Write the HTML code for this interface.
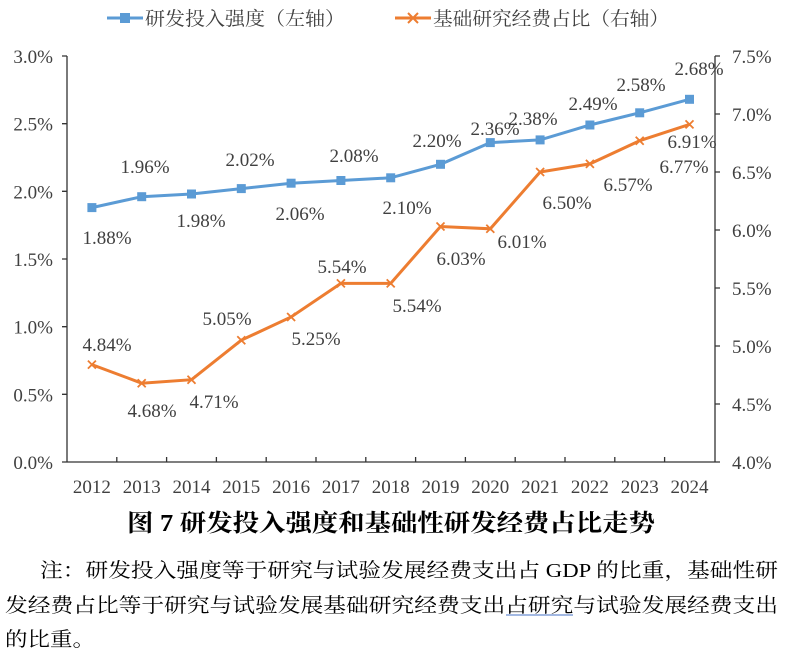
<!DOCTYPE html>
<html><head><meta charset="utf-8"><style>
body{margin:0;background:#fff;}
svg{display:block;}
.t{font-family:"Liberation Serif","Noto Serif CJK SC",serif;fill:#404040;font-size:19px;}
.c{font-family:"Liberation Serif","Noto Serif CJK SC",serif;fill:#000;}
</style></head><body>
<svg width="790" height="652" viewBox="0 0 790 652" xmlns="http://www.w3.org/2000/svg">
<!-- legend -->
<line x1="107" y1="18" x2="143" y2="18" stroke="#5B9BD5" stroke-width="3"/>
<rect x="120" y="13" width="10" height="10" fill="#5B9BD5"/>
<text class="t" x="145" y="25" font-size="19" textLength="200" lengthAdjust="spacingAndGlyphs">研发投入强度（左轴）</text>
<line x1="395" y1="18" x2="431" y2="18" stroke="#ED7D31" stroke-width="3"/>
<path d="M408 13l10 10M418 13l-10 10" stroke="#ED7D31" stroke-width="2"/>
<text class="t" x="433" y="25" font-size="19" textLength="236" lengthAdjust="spacingAndGlyphs">基础研究经费占比（右轴）</text>
<!-- axes -->
<g stroke="#333" stroke-width="1.3" fill="none">
<line x1="67" y1="56" x2="67" y2="462"/>
<line x1="715" y1="56" x2="715" y2="462"/>
<line x1="67" y1="462" x2="715" y2="462"/>
<path d="M62 56h5M62 123.7h5M62 191.3h5M62 259h5M62 326.7h5M62 394.3h5M62 462h5"/>
<path d="M715 56h5M715 114h5M715 172h5M715 230h5M715 288h5M715 346h5M715 404h5M715 462h5"/>
<path d="M116.8 462v-5M166.6 462v-5M216.4 462v-5M266.2 462v-5M316 462v-5M365.8 462v-5M415.6 462v-5M465.4 462v-5M515.2 462v-5M565 462v-5M614.8 462v-5M664.6 462v-5"/>
</g>
<g class="t" text-anchor="end">
<text x="53" y="63">3.0%</text><text x="53" y="130.7">2.5%</text><text x="53" y="198.3">2.0%</text><text x="53" y="266">1.5%</text><text x="53" y="333.7">1.0%</text><text x="53" y="401.3">0.5%</text><text x="53" y="469">0.0%</text>
</g>
<g class="t">
<text x="732" y="63">7.5%</text><text x="732" y="121">7.0%</text><text x="732" y="179">6.5%</text><text x="732" y="237">6.0%</text><text x="732" y="295">5.5%</text><text x="732" y="353">5.0%</text><text x="732" y="411">4.5%</text><text x="732" y="469">4.0%</text>
</g>
<g class="t" text-anchor="middle">
<text x="91.9" y="493">2012</text><text x="141.7" y="493">2013</text><text x="191.5" y="493">2014</text><text x="241.3" y="493">2015</text><text x="291.1" y="493">2016</text><text x="340.9" y="493">2017</text><text x="390.7" y="493">2018</text><text x="440.5" y="493">2019</text><text x="490.3" y="493">2020</text><text x="540.1" y="493">2021</text><text x="589.9" y="493">2022</text><text x="639.7" y="493">2023</text><text x="689.5" y="493">2024</text>
</g>
<!-- blue series -->
<polyline fill="none" stroke="#5B9BD5" stroke-width="3" points="91.9,207.6 141.7,196.7 191.5,194.0 241.3,188.6 291.1,183.2 340.9,180.5 390.7,177.8 440.5,164.3 490.3,142.6 540.1,139.9 589.9,125.0 639.7,112.8 689.5,99.3"/>
<g fill="#5B9BD5">
<rect x="87.4" y="203.1" width="9" height="9"/><rect x="137.2" y="192.2" width="9" height="9"/><rect x="187" y="189.5" width="9" height="9"/><rect x="236.8" y="184.1" width="9" height="9"/><rect x="286.6" y="178.7" width="9" height="9"/><rect x="336.4" y="176" width="9" height="9"/><rect x="386.2" y="173.3" width="9" height="9"/><rect x="436" y="159.8" width="9" height="9"/><rect x="485.8" y="138.1" width="9" height="9"/><rect x="535.6" y="135.4" width="9" height="9"/><rect x="585.4" y="120.5" width="9" height="9"/><rect x="635.2" y="108.3" width="9" height="9"/><rect x="685" y="94.8" width="9" height="9"/>
</g>
<!-- orange series -->
<polyline fill="none" stroke="#ED7D31" stroke-width="3" points="91.9,364.6 141.7,383.2 191.5,379.7 241.3,340.2 291.1,317.0 340.9,283.4 390.7,283.4 440.5,226.5 490.3,228.8 540.1,172.0 589.9,163.9 639.7,140.7 689.5,124.4"/>
<g stroke="#ED7D31" stroke-width="1.8" fill="none">
<path d="M87.9 360.6l8 8M95.9 360.6l-8 8"/><path d="M137.7 379.2l8 8M145.7 379.2l-8 8"/><path d="M187.5 375.7l8 8M195.5 375.7l-8 8"/><path d="M237.3 336.2l8 8M245.3 336.2l-8 8"/><path d="M287.1 313l8 8M295.1 313l-8 8"/><path d="M336.9 279.4l8 8M344.9 279.4l-8 8"/><path d="M386.7 279.4l8 8M394.7 279.4l-8 8"/><path d="M436.5 222.5l8 8M444.5 222.5l-8 8"/><path d="M486.3 224.8l8 8M494.3 224.8l-8 8"/><path d="M536.1 168l8 8M544.1 168l-8 8"/><path d="M585.9 159.9l8 8M593.9 159.9l-8 8"/><path d="M635.7 136.7l8 8M643.7 136.7l-8 8"/><path d="M685.5 120.4l8 8M693.5 120.4l-8 8"/>
</g>
<!-- data labels -->
<g class="t" text-anchor="middle">
<text x="107" y="244">1.88%</text><text x="145" y="173">1.96%</text><text x="201" y="227">1.98%</text><text x="250" y="166">2.02%</text><text x="300" y="220">2.06%</text><text x="354" y="162">2.08%</text><text x="407" y="214">2.10%</text><text x="437" y="147">2.20%</text><text x="495" y="135">2.36%</text><text x="533" y="125">2.38%</text><text x="593" y="110">2.49%</text><text x="641" y="91">2.58%</text><text x="699" y="75">2.68%</text>
<text x="107" y="351">4.84%</text><text x="152" y="417">4.68%</text><text x="214" y="408">4.71%</text><text x="227" y="325">5.05%</text><text x="316" y="345">5.25%</text><text x="342" y="273">5.54%</text><text x="417" y="312">5.54%</text><text x="461" y="265">6.03%</text><text x="522" y="248">6.01%</text><text x="567" y="209">6.50%</text><text x="628" y="191">6.57%</text><text x="684" y="173">6.77%</text><text x="692" y="148">6.91%</text>
</g>
<!-- caption -->
<text class="c" x="127" y="531" font-size="24" font-weight="bold" textLength="528" lengthAdjust="spacingAndGlyphs">图 7 研发投入强度和基础性研发经费占比走势</text>
<g class="c" font-size="20">
<text x="40" y="577" textLength="738" lengthAdjust="spacingAndGlyphs">注：研发投入强度等于研究与试验发展经费支出占 GDP 的比重，基础性研</text>
<text x="5" y="612" textLength="773" lengthAdjust="spacingAndGlyphs">发经费占比等于研究与试验发展基础研究经费支出占研究与试验发展经费支出</text>
<text x="5" y="646" textLength="90" lengthAdjust="spacingAndGlyphs">的比重。</text>
</g>
<line x1="506" y1="615" x2="573" y2="615" stroke="#4472C4" stroke-width="1"/>
</svg>
</body></html>
